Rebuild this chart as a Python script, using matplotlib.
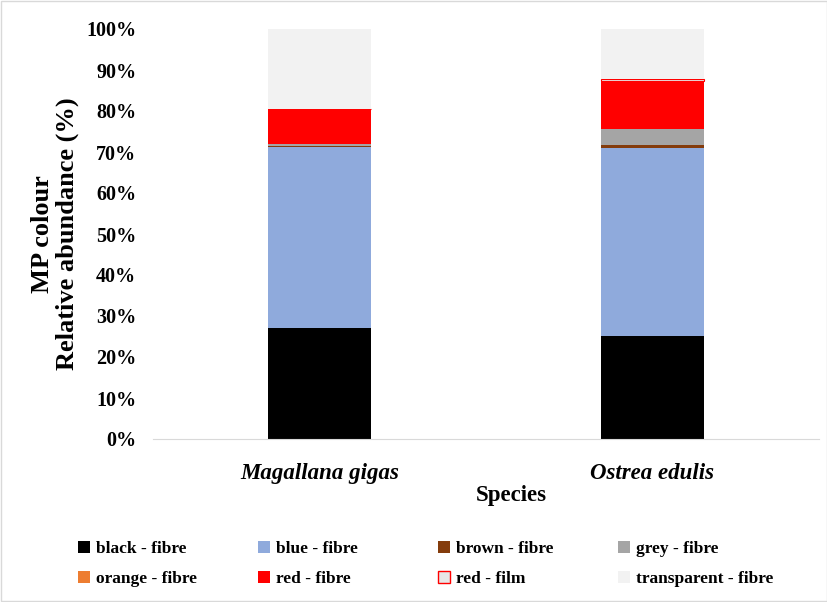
import matplotlib.pyplot as plt
import matplotlib.patches as mpatches
import numpy as np

species = ['Magallana gigas', 'Ostrea edulis']
series = ['black - fibre', 'blue - fibre', 'brown - fibre', 'grey - fibre',
          'orange - fibre', 'red - fibre', 'red - film', 'transparent - fibre']

black = [27.1, 25.2]
blue = [44.0, 45.8]
brown = [0.4, 0.6]
grey = [0.4, 3.9]
orange = [0.0, 0.0]
red = [8.6, 11.9]
red_film = [0.0, 0.4]
transparent = [19.5, 12.2]

values = [black, blue, brown, grey, orange, red, red_film, transparent]
colors = ['#000000', '#8faadc', '#843c0c', '#a5a5a5', '#ed7d31', '#ff0000', '#e7e6e6', '#f2f2f2']
edges = [None, None, None, None, None, None, '#ff0000', None]

plt.rcParams['font.family'] = ['Liberation Serif', 'DejaVu Serif']
plt.rcParams['font.weight'] = 'bold'

fig = plt.figure(figsize=(8.28, 6.02), dpi=100)
ax = fig.add_axes([153 / 828, 1 - 439 / 602, 666 / 828, 410 / 602])

x = np.arange(len(species))
bottom = np.zeros(len(species))
handles = []
for vals, col, ec, name in zip(values, colors, edges, series):
    v = np.array(vals) / 100
    ax.bar(x, v, 0.31, bottom=bottom, color=col,
           edgecolor=ec if ec else 'none', linewidth=0.8 if ec else 0)
    bottom += v
    handles.append(mpatches.Patch(facecolor=col, edgecolor=ec if ec else col,
                                  linewidth=1.0 if ec else 0, label=name))

ax.set_xlim(-0.5, 1.5)
ax.set_ylim(0, 1)
ax.set_yticks(np.arange(0, 1.01, 0.1))
ax.set_yticklabels(['%d%%' % v for v in range(0, 101, 10)], fontsize=14.5, fontweight='bold')
ax.set_xticks(x)
ax.set_xticklabels(species, fontsize=16.5, fontweight='bold', style='italic')
ax.tick_params(axis='both', length=0)
ax.tick_params(axis='y', pad=12)
ax.tick_params(axis='x', pad=17)
for s in ['top', 'right', 'left']:
    ax.spines[s].set_visible(False)
ax.spines['bottom'].set_color('#d9d9d9')
ax.set_xlabel('Species', fontsize=16.5, fontweight='bold')
ax.xaxis.set_label_coords((511 - 153) / 666, -(495 - 439) / 410)
ax.xaxis.label.set_va('center')
ax.set_ylabel('MP colour\nRelative abundance (%)', fontsize=19, fontweight='bold', linespacing=1.1)
ax.yaxis.set_label_coords(-(153 - 55) / 666, 0.5)
ax.yaxis.label.set_va('center')

# one legend per column so the columns sit at even spacing
cols = [[0, 4], [1, 5], [2, 6], [3, 7]]
for k, idx in enumerate(cols):
    fig.legend([handles[i] for i in idx], [series[i] for i in idx],
               loc='center left', bbox_to_anchor=((62 + 180 * k) / 828, 1 - 564 / 602),
               ncol=1, frameon=False, prop={'size': 12.5, 'weight': 'bold'},
               handlelength=0.7, handleheight=0.7, handletextpad=0.35, labelspacing=0.75)

fig.patches.append(mpatches.Rectangle((0.001, 0.001), 0.998, 0.998, transform=fig.transFigure,
                                      fill=False, edgecolor='#d9d9d9', linewidth=1))

fig.savefig('out.png', dpi=100)
